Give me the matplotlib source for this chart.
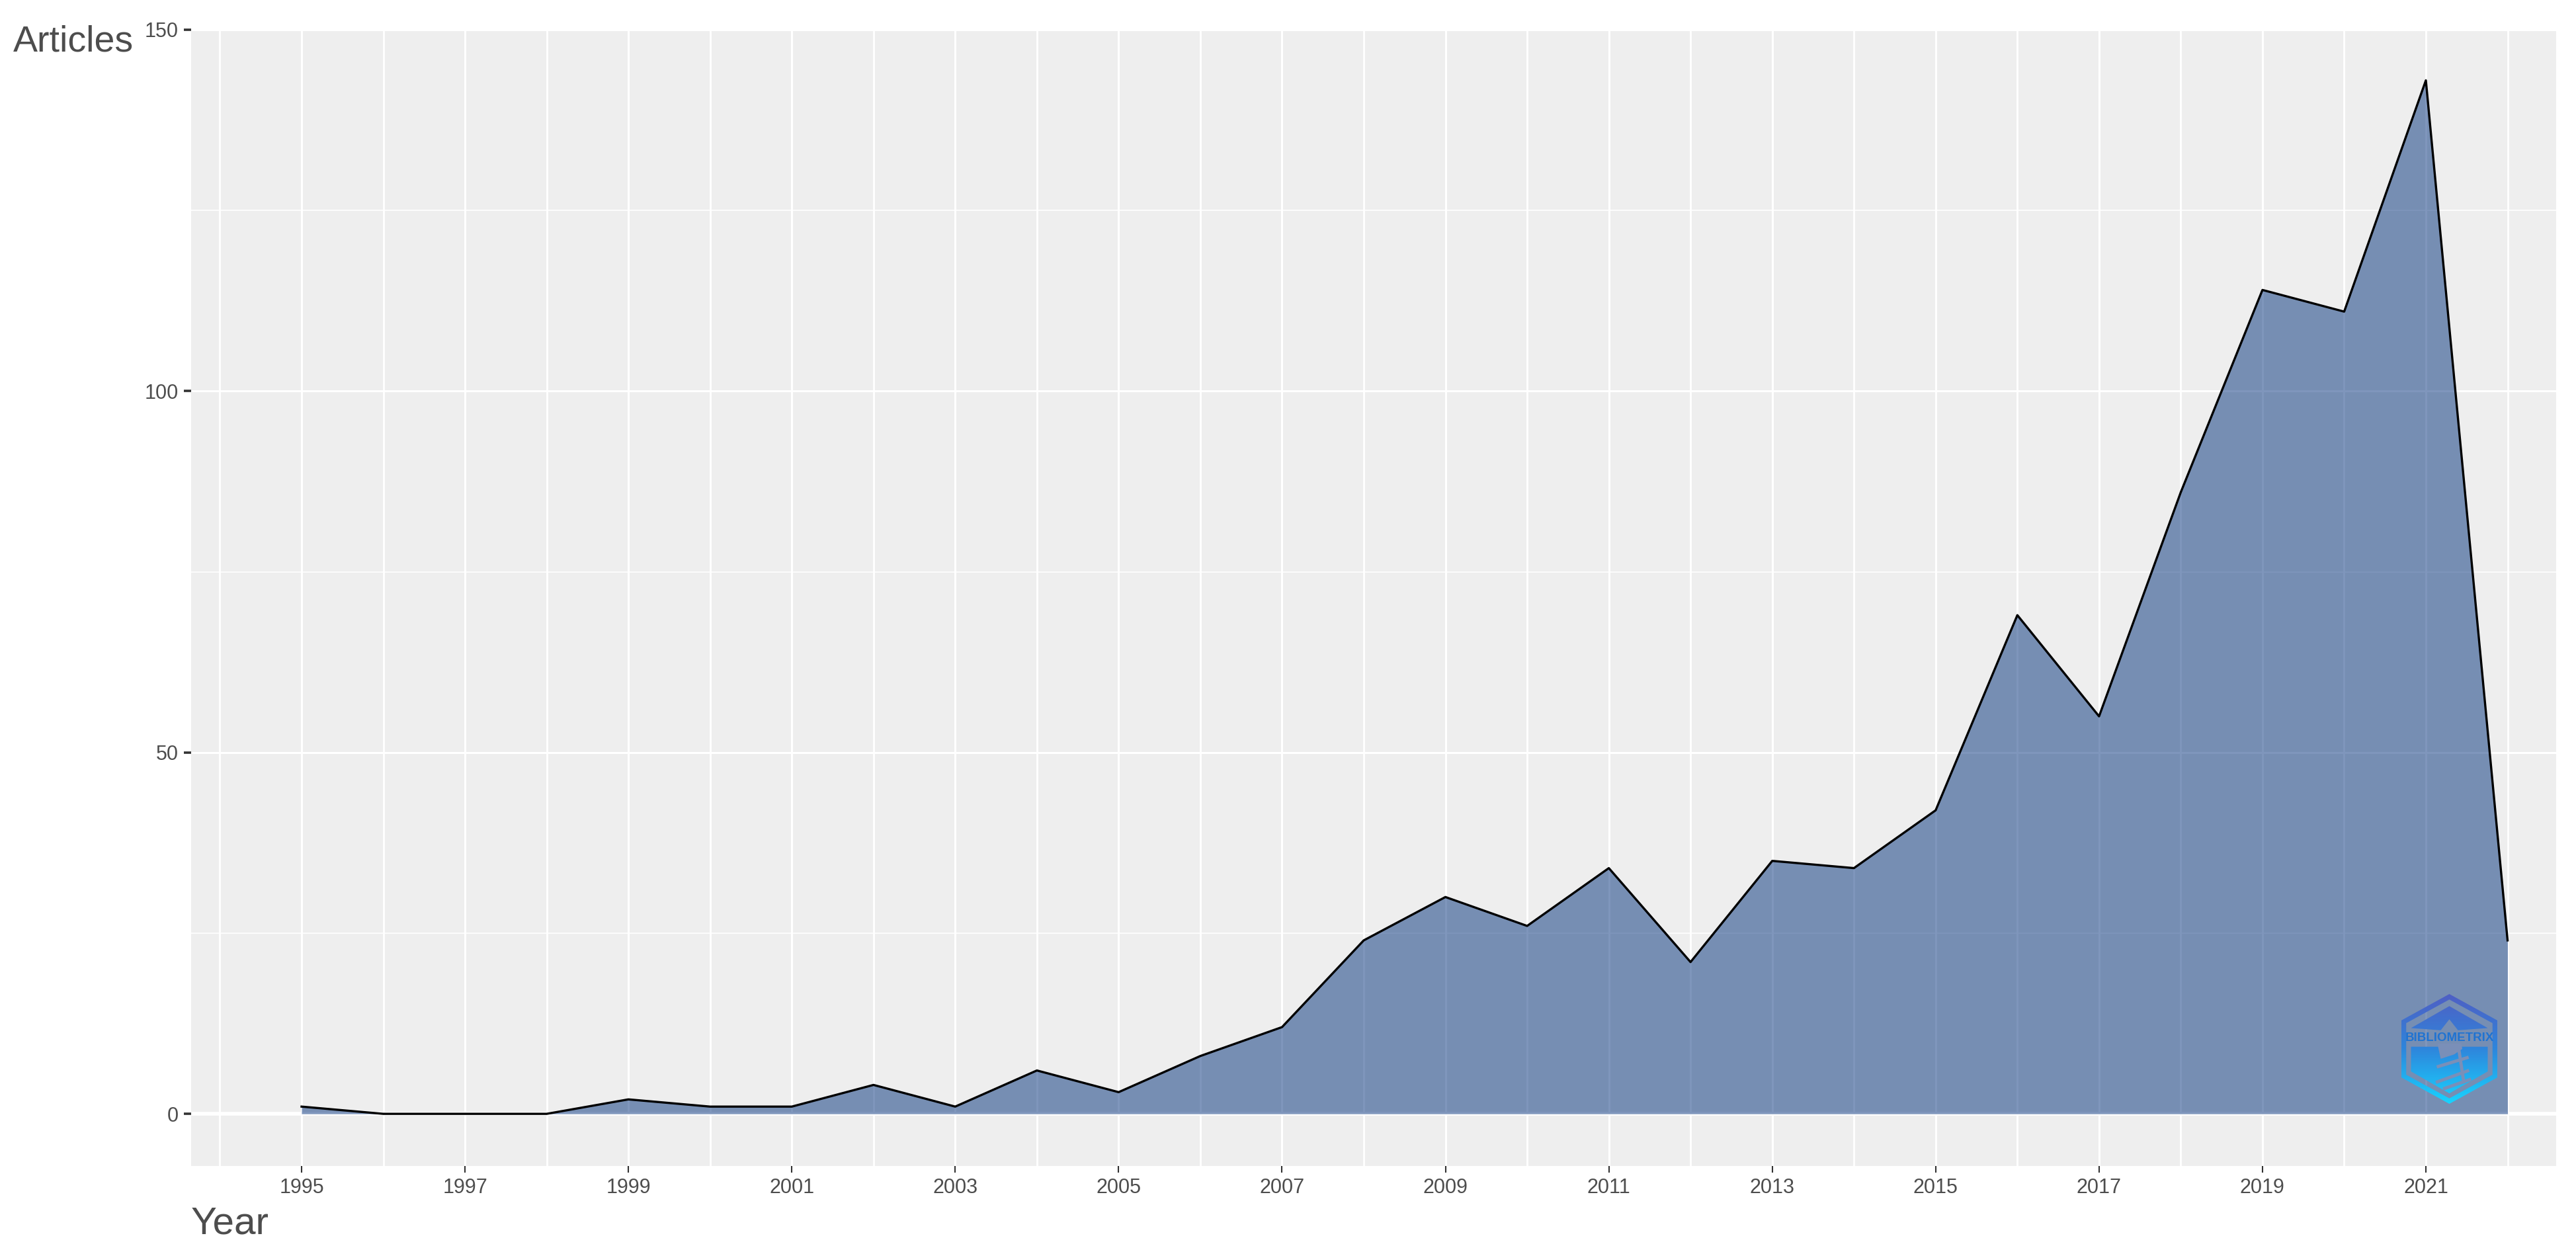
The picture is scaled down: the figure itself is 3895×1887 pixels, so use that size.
import numpy as np
import matplotlib
matplotlib.use("Agg")
import matplotlib.pyplot as plt
from matplotlib.patches import Polygon

# Annual scientific production
years = list(range(1995, 2023))
articles = [1, 0, 0, 0, 2, 1, 1, 4, 1, 6, 3, 8, 12, 24, 30, 26, 34, 21, 35, 34,
            42, 69, 55, 86, 114, 111, 143, 24]

year_ticks = list(range(1995, 2022, 2))
year_minor = list(range(1994, 2023, 2))
count_ticks = [0, 50, 100, 150]
count_minor = [25, 75, 125]

W, H = 3895, 1887
plt.rcParams["font.family"] = ["Liberation Sans", "DejaVu Sans"]

fig = plt.figure(figsize=(W / 100, H / 100), dpi=100)
ax = fig.add_axes([289 / W, 1 - 1763 / H, (3865 - 289) / W, (1763 - 45) / H])
ax.set_facecolor("#EEEEEE")
for s in ax.spines.values():
    s.set_visible(False)

px_x = (3668 - 456) / 26
px_y = (1684 - 42) / 150
ax.set_xlim(1995 - (456 - 289) / px_x, 2021 + (3865 - 3668) / px_x)
ax.set_ylim(-(1763 - 1684) / px_y, 150 - (45 - 42) / px_y)

ax.set_xticks(year_ticks)
ax.set_xticks(year_minor, minor=True)
ax.set_yticks(count_ticks)
ax.set_yticks(count_minor, minor=True)
ax.grid(True, which="major", axis="x", color="white", lw=2.2)
ax.grid(True, which="minor", axis="x", color="white", lw=2.0)
ax.grid(True, which="major", axis="y", color="white", lw=2.2)
ax.grid(True, which="minor", axis="y", color="white", lw=1.1)
ax.set_axisbelow(True)
ax.axhline(0, color="white", lw=4.0, zorder=1)
ax.tick_params(which="minor", length=0)
ax.tick_params(which="major", color="#333333", labelcolor="#4D4D4D", labelsize=22)
ax.tick_params(axis="x", which="major", length=7, width=1.5, pad=6)
ax.tick_params(axis="y", which="major", length=8, width=2.6, pad=6)

ax.fill_between(years, articles, 0, color="#002F7A", alpha=0.5, lw=0, zorder=2)
ax.plot(years, articles, color="black", lw=2.4, zorder=3)

fig.text(20 / W, 1 - 64 / H, "Articles", fontsize=40, color="#4D4D4D", ha="left", va="center")
fig.text(289 / W, 1 - 1850 / H, "Year", fontsize=42, color="#4D4D4D", ha="left", va="center")

# bibliometrix logo
logo = fig.add_axes([3631 / W, 1 - 1669 / H, 145 / W, 166 / H])
logo.axis("off")
cols = np.array([[0x4F, 0x5F, 0xC4], [0x2E, 0x86, 0xDC], [0x18, 0xD4, 0xFF]]) / 255
t = np.linspace(0, 1, 128)
grad = np.stack([np.interp(t, [0, 0.5, 1], cols[:, i]) for i in range(3)], axis=1)[:, None, :]
logo_bg = "#7A8FB8"

hex_outer = [(0, 1), (1, 0.52), (1, -0.52), (0, -1), (-1, -0.52), (-1, 0.52)]
hex_ring = [(0, 0.9), (0.9, 0.47), (0.9, -0.47), (0, -0.9), (-0.9, -0.47), (-0.9, 0.47)]
upper = [(0, 0.78), (0.8, 0.38), (0.18, 0.34), (0, 0.54), (-0.18, 0.34), (-0.8, 0.38)]
lower = [(-0.8, 0.04), (0.8, 0.04), (0.8, -0.41), (0, -0.81), (-0.8, -0.41)]
head = [(-0.25, 0.1), (0.25, 0.1), (0.27, 0.0), (0.1, -0.1), (-0.18, -0.18)]
stripes = [[(-0.23, -0.32), (0.37, -0.16)], [(-0.25, -0.6), (0.38, -0.4)],
           [(-0.1, -0.72), (0.42, -0.56)], [(0.2, -0.02), (0.3, -0.6)]]

ring_path = np.array(hex_outer + hex_outer[:1] + hex_ring[::-1] + hex_ring[-1:])
for pts in (ring_path, upper, lower):
    im = logo.imshow(grad, extent=(-1, 1, -1, 1), aspect="auto", zorder=1)
    im.set_clip_path(Polygon(pts, transform=logo.transData))
logo.add_patch(Polygon(head, color=logo_bg, lw=0, zorder=2))
for (x0, y0), (x1, y1) in stripes:
    logo.plot([x0, x1], [y0, y1], color=logo_bg, lw=3.5, zorder=2)
logo.set_xlim(-1, 1)
logo.set_ylim(-1, 1)
logo.text(0, 0.2, "BIBLIOMETRIX", ha="center", va="center", fontsize=13.5,
          fontweight="bold", color="#1F73D2", zorder=3)

fig.savefig("out.png", dpi=100, facecolor="white")
